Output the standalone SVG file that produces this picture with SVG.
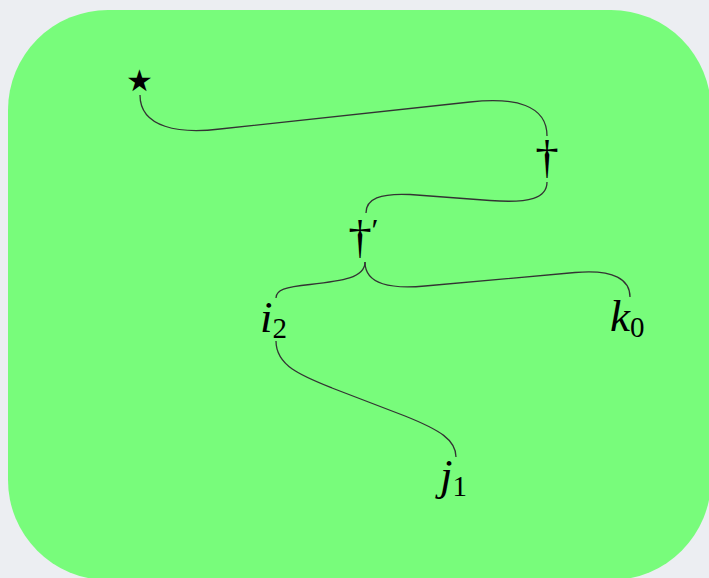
<svg xmlns="http://www.w3.org/2000/svg" width="709" height="578" viewBox="0 0 709 578">
  <defs>
    <style>
      .conn { fill: none; stroke: #333333; stroke-width: 1.3; }
      .lbl { font-family: "Liberation Serif", "DejaVu Serif", serif; fill: #000000; }
      .it { font-style: italic; font-size: 45px; }
      .sub { font-size: 29px; }
      .sym { font-size: 47px; }
    </style>
  </defs>
  <rect x="0" y="0" width="709" height="578" fill="#eceef2"/>
  <rect x="8" y="10" width="703" height="570" rx="100" ry="100" fill="#78fc7b"/>

  <g id="connectors">
    <path class="conn" d="M140,95 C140,128 180,134 220,129 L470,102 C515,97 547,105 547,136"/>
    <path class="conn" d="M366,213 C366,199 380,193 410,194.5 L490,200.5 C530,203.5 547,198 547,182"/>
    <path class="conn" d="M365,262 C365,278 342,281 310,284.5 C285,287 276,290 276,298"/>
    <path class="conn" d="M365,262 C365,285 392,289 425,286 L575,272.5 C615,269 630,280 630,297"/>
    <path class="conn" d="M276,341 C276,366 302,376 332,388 L405,416 C440,430 456,440 456,457"/>
  </g>

  <g id="node-star">
    <text class="lbl" x="139" y="91" font-size="30" text-anchor="middle" font-family="DejaVu Sans, sans-serif">★</text>
  </g>
  <g id="node-dagger">
    <text class="lbl sym" x="547" y="173" text-anchor="middle">†</text>
  </g>
  <g id="node-dagger-prime">
    <text class="lbl sym" x="360" y="253" text-anchor="middle">†</text>
    <text class="lbl" x="375" y="241" font-size="32" text-anchor="middle">′</text>
  </g>
  <g id="node-i2">
    <text class="lbl" x="260" y="332"><tspan class="it">i</tspan><tspan class="sub" y="338">2</tspan></text>
  </g>
  <g id="node-k0">
    <text class="lbl" x="610" y="331"><tspan class="it">k</tspan><tspan class="sub" y="337">0</tspan></text>
  </g>
  <g id="node-j1">
    <text class="lbl" x="440" y="490"><tspan class="it">j</tspan><tspan class="sub" y="496">1</tspan></text>
  </g>
</svg>
